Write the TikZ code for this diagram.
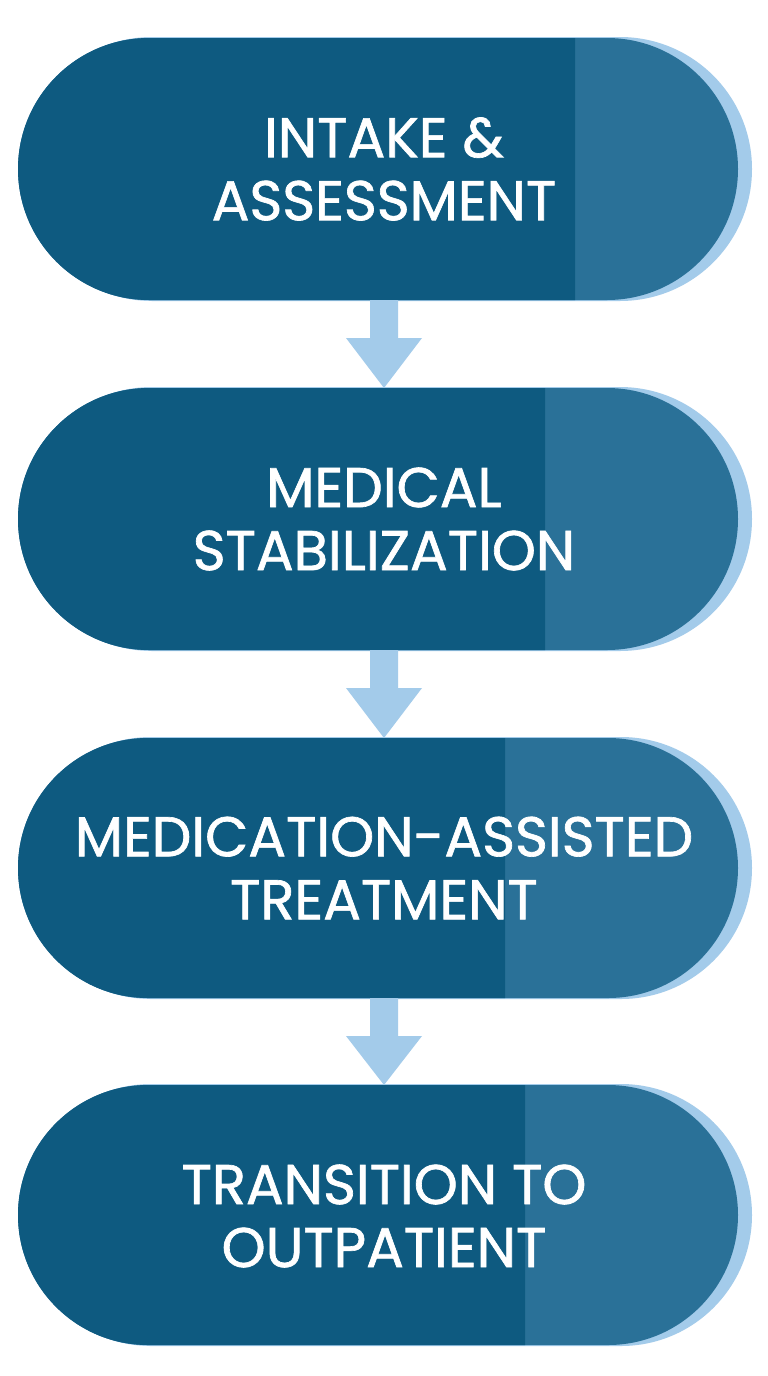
\documentclass[tikz,border=0pt]{standalone}
\usepackage{fontspec}
\setmainfont{Poppins}[FakeBold=1.2]
\begin{document}
\begin{tikzpicture}[x=1pt,y=-1pt]
\definecolor{dk}{HTML}{0E5A80}
\definecolor{md}{HTML}{2A7198}
\definecolor{lt}{HTML}{A3CBEA}
\tikzset{lbl/.style={text=white,font=\fontsize{56}{63}\selectfont,align=center}}
\useasboundingbox (0,0) rectangle (768,1376);
\fill[white] (0,0) rectangle (768,1376);
\newcommand\pill[3]{% top, bottom, split
  \fill[lt,rounded corners={(#2-#1)/2+1}] (20,#1-1) rectangle (752,#2+1);
  \fill[md,rounded corners={(#2-#1)/2}] (18,#1) rectangle (738,#2);
  \begin{scope}
    \clip (0,#1) rectangle (#3,#2);
    \fill[dk,rounded corners={(#2-#1)/2}] (18,#1) rectangle (738,#2);
  \end{scope}
}
\newcommand\arr[2]{%
  \fill[lt] (370,#1) -- (398,#1) -- (398,#1+38) -- (422,#1+38) -- (384,#2) -- (346,#1+38) -- (370,#1+38) -- cycle;
}
\pill{38}{300}{575}
\pill{388}{650}{545}
\pill{738}{998}{505}
\pill{1085}{1345}{525}
\arr{300}{388}
\arr{650}{738}
\arr{998}{1085}
\node[lbl] (t1) at (384,169) {INTAKE \&\\ASSESSMENT};
\node[lbl] (t2) at (384,519) {MEDICAL\\STABILIZATION};
\node[lbl] (t3) at (384,868) {MEDICATION-ASSISTED\\TREATMENT};
\node[lbl] (t4) at (384,1216) {TRANSITION TO\\OUTPATIENT};
\end{tikzpicture}
\end{document}
